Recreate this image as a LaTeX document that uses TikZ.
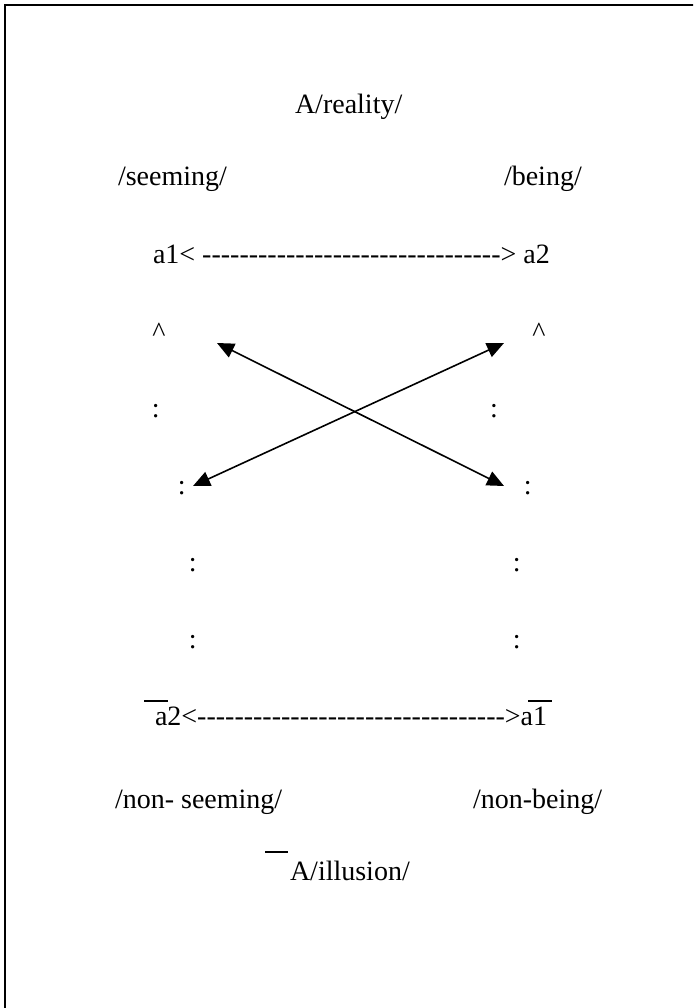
\documentclass[tikz,border=0pt]{standalone}
\usepackage{fontspec}
\setmainfont{Liberation Serif}
\usetikzlibrary{arrows.meta}
\newcount\mydashcount
\newcommand\mydashes[1]{\mydashcount=0 \loop\hbox{-}\advance\mydashcount by 1 \ifnum\mydashcount<#1\repeat}
\begin{document}
\begin{tikzpicture}[x=1pt,y=-1pt,
  lbl/.style={inner sep=0pt,outer sep=0pt,font=\fontsize{28}{33}\selectfont,anchor=base west},
  dots/.style={inner sep=0pt,outer sep=0pt,font=\fontsize{28}{33}\selectfont,anchor=base},
  cross/.style={line width=1.6pt,{Triangle[length=17pt,width=15pt]}-{Triangle[length=17pt,width=15pt]}},
  bar/.style={line width=2pt},
  frame/.style={line width=2.5pt}]
\useasboundingbox (0,0) rectangle (693,1008);
\begin{scope}
\clip (0,0) rectangle (693,1008);
\draw[frame] (5,5) rectangle (740,1060);
\end{scope}
% top labels
\node[lbl] (reality) at (295,114) {A/reality/};
\node[lbl] (seeming) at (118,186) {/seeming/};
\node[lbl] (being) at (504,186) {/being/};
\node[lbl] (topline) at (153,263) {a1< \mydashes{32}> a2};
% carets
\node[dots] (carL) at (159,341) {\^{}};
\node[dots] (carR) at (539,341) {\^{}};
% colons
\node[dots] (cL1) at (155.7,417) {:};
\node[dots] (cR1) at (494,417) {:};
\node[dots] (cL2) at (181.7,494) {:};
\node[dots] (cR2) at (527.7,494) {:};
\node[dots] (cL3) at (192.7,571) {:};
\node[dots] (cR3) at (516.7,571) {:};
\node[dots] (cL4) at (192.7,648) {:};
\node[dots] (cR4) at (516.7,648) {:};
% crossing arrows
\coordinate (ul) at (217,343);
\coordinate (ur) at (504,343);
\coordinate (ll) at (193,486);
\coordinate (lr) at (504,486);
\draw[cross] (ul) -- (lr);
\draw[cross] (ur) -- (ll);
% bottom line
\node[lbl] (botline) at (155,725) {a2<\mydashes{33}>a1};
\coordinate (b1s) at (144,701);
\coordinate (b1e) at (168,701);
\coordinate (b2s) at (528,701);
\coordinate (b2e) at (552,701);
\draw[bar] (b1s) -- (b1e);
\draw[bar] (b2s) -- (b2e);
% bottom labels
\node[lbl] (nonseeming) at (115,808) {/non- seeming/};
\node[lbl] (nonbeing) at (473,808) {/non-being/};
\node[lbl] (illusion) at (290,880) {A/illusion/};
\coordinate (b3s) at (265,852);
\coordinate (b3e) at (288,852);
\draw[bar] (b3s) -- (b3e);
\end{tikzpicture}
\end{document}
